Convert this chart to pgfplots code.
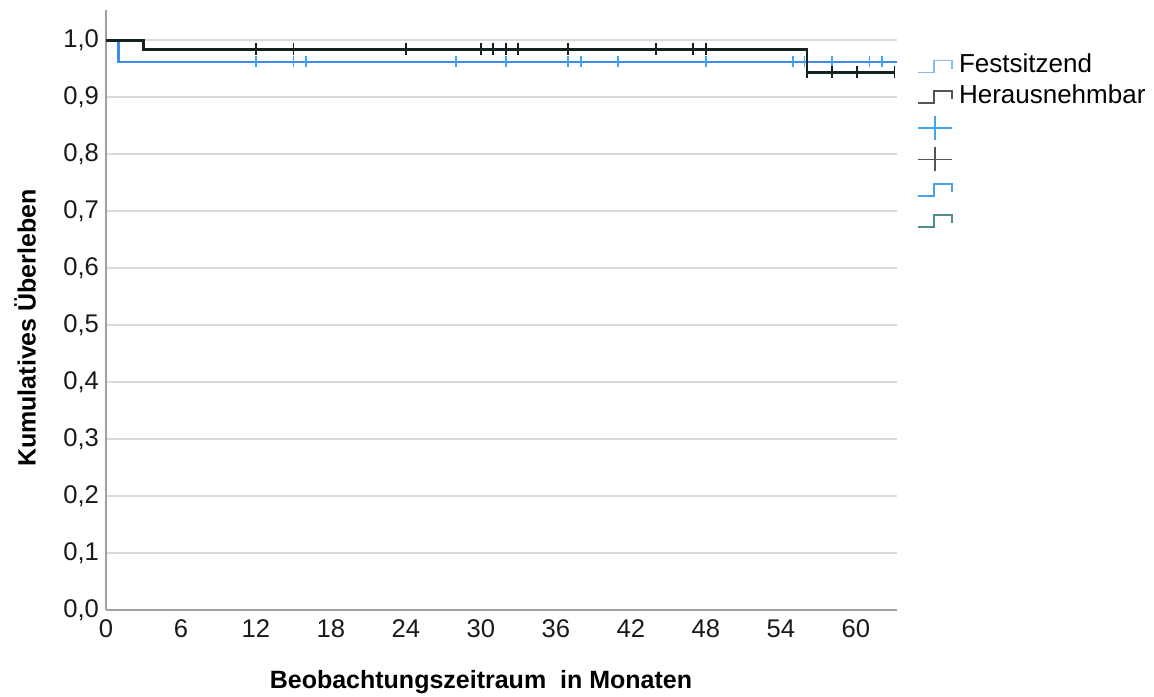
\documentclass[border=0pt]{standalone}
\usepackage{pgfplots}
\pgfplotsset{compat=1.18}
\usepackage{fontspec}
\setmainfont{Liberation Sans}
\definecolor{kmblue}{HTML}{3D8DE8}
\definecolor{kmblack}{HTML}{142222}
\definecolor{gridgray}{HTML}{DADADA}
\definecolor{axgray}{HTML}{A0A0A0}
\definecolor{legblue}{HTML}{8DB9EE}
\definecolor{leggray}{HTML}{555555}
\definecolor{legplusblue}{HTML}{3EA6F2}
\definecolor{legstepblue}{HTML}{49A2EA}
\definecolor{legteal}{HTML}{4F8C8C}
\definecolor{censblue}{HTML}{42A3F0}
\pgfplotsset{
  steplegend/.style={legend image code/.code={
    \draw[##1] (0pt,-3pt) -- (8pt,-3pt) -- (8pt,3pt) -- (17pt,3pt) -- (17pt,-1pt);}},
  pluslegend/.style={legend image code/.code={
    \draw[##1] (0pt,0pt) -- (17pt,0pt) (8.5pt,-6pt) -- (8.5pt,6pt);}}
}
\begin{document}
\begin{tikzpicture}
\begin{axis}[
  scale only axis,
  width=395.5pt, height=300pt,
  xmin=0, xmax=63.3, ymin=0, ymax=1.053,
  axis lines*=left,
  axis line style={axgray, line width=1pt},
  xtick={0,6,...,60},
  ytick={0,0.1,...,1.0},
  major tick length=0pt,
  ymajorgrids,
  grid style={gridgray, line width=0.8pt},
  yticklabel={\pgfmathprintnumber[fixed,fixed zerofill,precision=1,use comma]{\tick}},
  /pgf/number format/assume math mode=true,
  tick label style={font=\fontsize{12.8pt}{14pt}\selectfont, text=black!90},
  xticklabel style={yshift=-1.3pt},
  xlabel={\textbf{Beobachtungszeitraum\ \ in Monaten}},
  ylabel={\textbf{Kumulatives Überleben}},
  label style={font=\fontsize{12.5pt}{14pt}\selectfont},
  xlabel style={at={(axis description cs:0.474,-0.12)}, anchor=center},
  ylabel style={at={(axis description cs:-0.1024,0.47)}, anchor=center},
  clip=false,
  legend style={at={(1.0253,0.927)}, anchor=north west, draw=none, fill=none,
    font=\fontsize{13pt}{15pt}\selectfont, row sep=2.8pt, inner sep=0pt,
    nodes={text height=9.3pt, text depth=3.2pt, inner sep=0pt, inner xsep=3pt},
    cells={anchor=west}},
  legend cell align=left,
]
% legend-only entries
\addlegendimage{steplegend, legblue, line width=0.8pt}
\addlegendentry{Festsitzend}
\addlegendimage{steplegend, leggray, line width=0.8pt}
\addlegendentry{Herausnehmbar}
\addlegendimage{pluslegend, legplusblue, line width=0.8pt}
\addlegendentry{}
\addlegendimage{pluslegend, leggray, line width=0.8pt}
\addlegendentry{}
\addlegendimage{steplegend, legstepblue, line width=0.8pt}
\addlegendentry{}
\addlegendimage{steplegend, legteal, line width=0.8pt}
\addlegendentry{}
% Festsitzend
\addplot[const plot, kmblue, line width=1.1pt, forget plot] coordinates {
(0,1) (1,1) (1,0.962) (63.3,0.962)};
\addplot[only marks, mark=|, mark size=2.8pt, censblue, mark options={line width=0.9pt}, forget plot] coordinates {
(12,0.962) (15,0.962) (16,0.962) (28,0.962) (32,0.962) (37,0.962) (38,0.962) (41,0.962) (48,0.962) (55,0.962) (55.9,0.962) (58.1,0.962) (61.1,0.962) (62.1,0.962)};
% Herausnehmbar
\addplot[const plot, kmblack, line width=1.45pt, forget plot] coordinates {
(0,1) (3,1) (3,0.984) (56.1,0.984) (56.1,0.944) (63.1,0.944)};
\addplot[only marks, mark=|, mark size=3pt, kmblack, mark options={line width=0.9pt}, forget plot] coordinates {
(12,0.984) (15,0.984) (24,0.984) (30,0.984) (31,0.984) (32,0.984) (33,0.984) (37,0.984) (44,0.984) (47,0.984) (48,0.984)
(56.1,0.944) (58.1,0.944) (60.1,0.944) (63.1,0.944)};
\end{axis}
\pgfresetboundingbox
\path (-53pt,-43pt) rectangle (524pt,305pt);
\end{tikzpicture}
\end{document}
